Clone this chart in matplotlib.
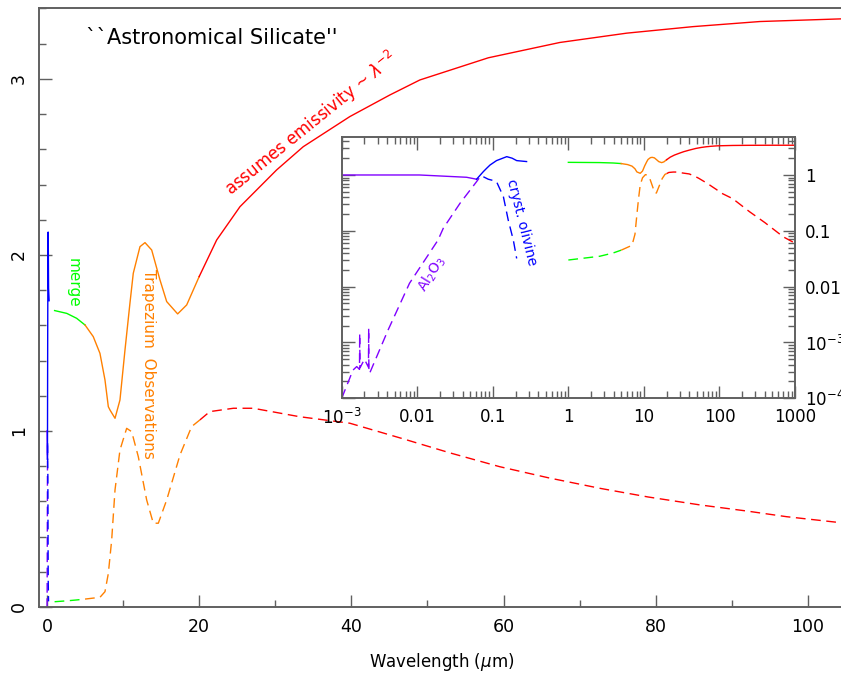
import matplotlib.pyplot as plt
import matplotlib.ticker as mticker

# Optical constants: n (solid) and k (dashed) per segment.
purple_wl = [1.0e-3, 2.0e-3, 5.0e-3, 0.0107, 0.020, 0.045, 0.061]
purple_n = [1.00, 1.00, 1.00, 1.00, 0.96, 0.91, 0.84]
purple_k_wl = [1.0e-3, 1.41e-3, 1.58e-3, 1.72e-3, 1.73e-3, 1.745e-3, 2.0e-3,
               2.26e-3, 2.275e-3, 2.29e-3, 2.34e-3, 4.1e-3, 7.9e-3, 0.0188,
               0.0221, 0.0368, 0.061, 0.068]
purple_k = [1.0e-4, 3.2e-4, 3.7e-4, 3.3e-4, 1.45e-3, 3.5e-4, 5.0e-4,
            3.6e-4, 1.8e-3, 3.0e-4, 2.8e-4, 1.66e-3, 0.0115, 0.068,
            0.111, 0.311, 0.76, 0.93]

blue_wl = [0.061, 0.075, 0.083, 0.092, 0.112, 0.153, 0.18, 0.207, 0.28]
blue_n = [0.84, 1.15, 1.32, 1.51, 1.81, 2.13, 2.00, 1.81, 1.74]
blue_k_wl = [0.075, 0.087, 0.10, 0.112, 0.138, 0.160, 0.187, 0.207]
blue_k = [0.93, 0.84, 0.80, 0.76, 0.41, 0.156, 0.068, 0.032]

green_wl = [1.0, 2.6, 3.9, 5.0]
green_n = [1.684, 1.668, 1.640, 1.602]
green_k = [0.030, 0.035, 0.040, 0.045]

orange_wl = [5.0, 6.08, 6.96, 7.62, 8.06, 8.28, 8.94, 9.59, 10.25, 10.9, 11.34,
             12.22, 12.88, 13.76, 14.85, 15.73, 17.17, 18.36, 20.0]
orange_n = [1.602, 1.536, 1.441, 1.29, 1.138, 1.119, 1.072, 1.176, 1.46, 1.725,
            1.896, 2.047, 2.07, 2.028, 1.858, 1.735, 1.665, 1.716, 1.877]
orange_k_wl = [5.0, 6.96, 7.62, 8.06, 8.5, 8.94, 9.59, 10.47, 11.13, 12.0,
               13.1, 13.97, 14.63, 15.73, 17.48, 19.01, 20.1]
orange_k = [0.045, 0.055, 0.087, 0.19, 0.38, 0.665, 0.892, 1.015, 0.996, 0.854,
            0.608, 0.476, 0.476, 0.608, 0.864, 1.025, 1.063]

red_wl = [20.0, 22.3, 25.36, 30.18, 33.68, 39.8, 45.07, 49.0, 58.0, 67.4,
          76.2, 84.9, 93.7, 104.3, 150, 250, 500, 1000]
red_n = [1.877, 2.085, 2.274, 2.483, 2.615, 2.786, 2.909, 2.994, 3.12, 3.207,
         3.26, 3.297, 3.326, 3.341, 3.38, 3.40, 3.41, 3.41]
red_k_wl = [20.1, 21.4, 24.5, 27.1, 33.2, 39.8, 46.6, 53.0, 59.5, 66.0, 72.7,
            79.0, 85.8, 92.0, 97.2, 104.3, 150, 250, 400, 700, 1000]
red_k = [1.063, 1.11, 1.129, 1.129, 1.081, 1.044, 0.958, 0.875, 0.797, 0.733,
         0.674, 0.625, 0.58, 0.545, 0.513, 0.479, 0.376, 0.22, 0.14, 0.078, 0.06]

inset_xticks = [1e-3, 1e-2, 1e-1, 1, 10, 100, 1000]
inset_xlabels = [r"$10^{-3}$", "0.01", "0.1", "1", "10", "100", "1000"]
inset_yticks = [1e-4, 1e-3, 1e-2, 1e-1, 1]
inset_ylabels = [r"$10^{-4}$", r"$10^{-3}$", "0.01", "0.1", "1"]

PURPLE = "#8000ff"
BLUE = "#0000ff"
GREEN = "#00ff00"
ORANGE = "#ff8000"
RED = "#ff0000"
SPINE = "#606060"
DASH = (7, 4)

W, H = 841, 675

segments = [
    (purple_wl, purple_n, purple_k_wl, purple_k, PURPLE),
    (blue_wl, blue_n, blue_k_wl, blue_k, BLUE),
    (green_wl, green_n, green_wl, green_k, GREEN),
    (orange_wl, orange_n, orange_k_wl, orange_k, ORANGE),
    (red_wl, red_n, red_k_wl, red_k, RED),
]


def fx(x, y):
    """Pixel position (from top-left) to figure fraction."""
    return x / W, 1 - y / H


def draw_segments(ax):
    for wl, n, kwl, k, col in segments:
        ax.plot(wl, n, color=col, lw=1.0)
        ax.plot(kwl, k, color=col, lw=1.0, dashes=DASH)


def style_spines(ax):
    for sp in ax.spines.values():
        sp.set_color(SPINE)
        sp.set_linewidth(1.4)


fig = plt.figure(figsize=(W / 100, H / 100), dpi=100)

# main axes, right edge runs off the canvas like the original
ax = fig.add_axes([39 / W, 68 / H, (884 - 39) / W, 598.5 / H])
draw_segments(ax)
ax.set_xlim(-1.05, 110)
ax.set_ylim(0, 3.4)
ax.xaxis.set_major_locator(mticker.MultipleLocator(20))
ax.xaxis.set_minor_locator(mticker.MultipleLocator(10))
ax.yaxis.set_major_locator(mticker.MultipleLocator(1))
ax.yaxis.set_minor_locator(mticker.MultipleLocator(0.2))
ax.tick_params(which="both", direction="in", color=SPINE, width=1.0,
               top=False, right=False, labelsize=12.5, pad=8)
ax.tick_params(which="major", length=9)
ax.tick_params(which="minor", length=5)
for lab in ax.get_yticklabels():
    lab.set_rotation(90)
    lab.set_va("center")
style_spines(ax)
ax.spines["right"].set_visible(False)

fig.text(*fx(442, 662), r"Wavelength ($\mu$m)", fontsize=12, ha="center", va="center")
fig.text(*fx(86, 38), "``Astronomical Silicate''", fontsize=15, ha="left", va="center")
fig.text(*fx(311, 124), r"assumes emissivity ~ $\lambda^{-2}$", fontsize=12,
         color=RED, rotation=39, ha="center", va="center", rotation_mode="anchor")
fig.text(*fx(73, 283), "merge", fontsize=11, color=GREEN,
         rotation=-90, ha="center", va="center")
fig.text(*fx(148, 364), "Trapezium  Observations", fontsize=11, color=ORANGE,
         rotation=-90, ha="center", va="center")

# inset: same data on log-log axes
ins = fig.add_axes([341.7 / W, (H - 398.3) / H, 453.3 / W, 261.6 / H])
ins.set_facecolor("white")
draw_segments(ins)
ins.set_xscale("log")
ins.set_yscale("log")
ins.set_xlim(1e-3, 1000)
ins.set_ylim(1e-4, 4.85)
ins.set_xticks(inset_xticks)
ins.set_xticklabels(inset_xlabels)
ins.set_yticks(inset_yticks)
ins.set_yticklabels(inset_ylabels)
ins.xaxis.set_minor_locator(mticker.LogLocator(base=10, subs=range(2, 10), numticks=20))
ins.yaxis.set_minor_locator(mticker.LogLocator(base=10, subs=range(2, 10), numticks=20))
ins.xaxis.set_minor_formatter(mticker.NullFormatter())
ins.yaxis.set_minor_formatter(mticker.NullFormatter())
ins.tick_params(which="both", direction="in", color=SPINE, width=1.0,
                top=True, bottom=True, left=True, right=True,
                labelleft=False, labelright=True, labelsize=12, pad=7)
ins.tick_params(which="major", length=9)
ins.tick_params(which="minor", length=5)
style_spines(ins)

fig.text(*fx(432, 274), r"Al$_2$O$_3$", fontsize=10, color=PURPLE,
         rotation=58, ha="center", va="center")
fig.text(*fx(522, 222), "cryst. olivine", fontsize=10, color=BLUE,
         rotation=-76, ha="center", va="center")

fig.savefig("out.png", dpi=100)
